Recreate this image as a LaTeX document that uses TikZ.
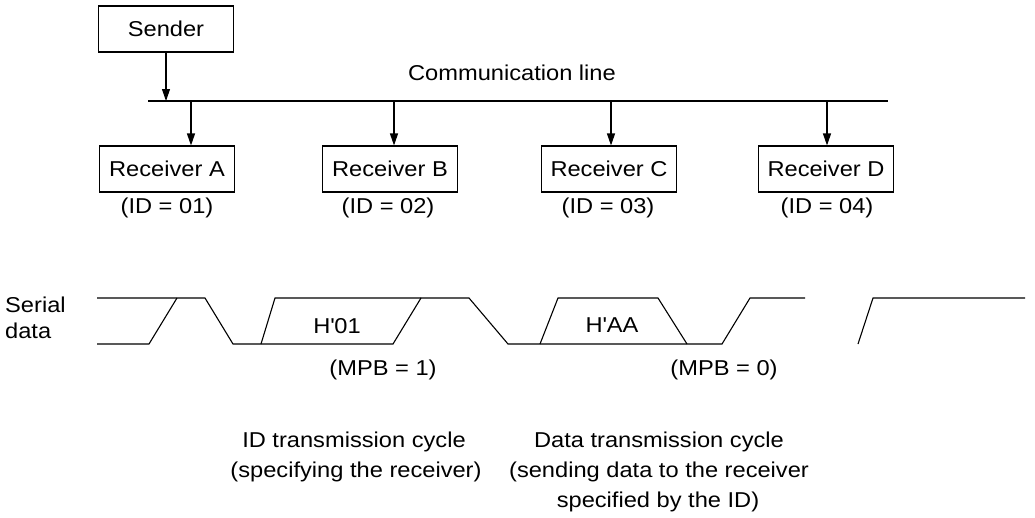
\documentclass[tikz,border=0pt]{standalone}
\usepackage{fontspec}
\setmainfont[FakeStretch=1.1]{Liberation Sans}
\usetikzlibrary{arrows.meta}
\begin{document}
\begin{tikzpicture}[x=1pt,y=-1pt,
  every node/.style={font=\fontsize{21.5}{25}\selectfont, inner sep=0pt},
  box/.style={draw, line width=1.1pt, minimum width=135pt, minimum height=46pt},
  ln/.style={line width=1.1pt},
  arr/.style={line width=1.1pt, -{Triangle[length=12pt,width=8pt]}},
  lbl/.style={anchor=base}
]
\useasboundingbox (0,0) rectangle (1035,517);

% sender and bus
\node[box] (S) at (166,29) {Sender};
\coordinate (busL) at (148,101);
\coordinate (busR) at (888,101);
\draw[ln] (busL) -- (busR);
\node[lbl] (cl) at (512,80) {Communication line};
\draw[arr] (S.south) -- (S.south |- busL);

% receivers
\node[box] (A) at (167,169) {Receiver A};
\node[box] (B) at (390,169) {Receiver B};
\node[box] (C) at (609,169) {Receiver C};
\node[box] (D) at (826,169) {Receiver D};
\coordinate (tA) at (191,101);
\coordinate (tB) at (394,101);
\coordinate (tC) at (611,101);
\coordinate (tD) at (827,101);
\draw[arr] (tA) -- (tA |- A.north);
\draw[arr] (tB) -- (tB |- B.north);
\draw[arr] (tC) -- (tC |- C.north);
\draw[arr] (tD) -- (tD |- D.north);
\node[lbl] (idA) at (167,213) {(ID = 01)};
\node[lbl] (idB) at (388,213) {(ID = 02)};
\node[lbl] (idC) at (608,213) {(ID = 03)};
\node[lbl] (idD) at (827,213) {(ID = 04)};

% serial data waveform
\node[lbl, anchor=base west] (ser1) at (5,312) {Serial};
\node[lbl, anchor=base west] (ser2) at (5,338) {data};
\draw[ln] (97,298) -- (205,298) -- (233,344) -- (393,344) -- (421,298) -- (469,298)
  -- (508,344) -- (722,344) -- (750,298) -- (805,298);
\draw[ln] (97,344) -- (149,344) -- (177,298);
\draw[ln] (261,344) -- (275,298) -- (421,298);
\draw[ln] (540,344) -- (558,298) -- (658,298) -- (687,344);
\draw[ln] (858,344) -- (873,298) -- (1025,298);
\node[lbl] (h01) at (337,333) {H\textquotesingle 01};
\node[lbl] (haa) at (612,332) {H\textquotesingle AA};
\node[lbl] (m1) at (383,375) {(MPB = 1)};
\node[lbl] (m0) at (724,375) {(MPB = 0)};

% captions
\node[lbl] (c1a) at (354,447) {ID transmission cycle};
\node[lbl] (c1b) at (356,477) {(specifying the receiver)};
\node[lbl] (c2a) at (659,447) {Data transmission cycle};
\node[lbl] (c2b) at (659,477) {(sending data to the receiver};
\node[lbl] (c2c) at (658,507) {specified by the ID)};
\end{tikzpicture}
\end{document}
